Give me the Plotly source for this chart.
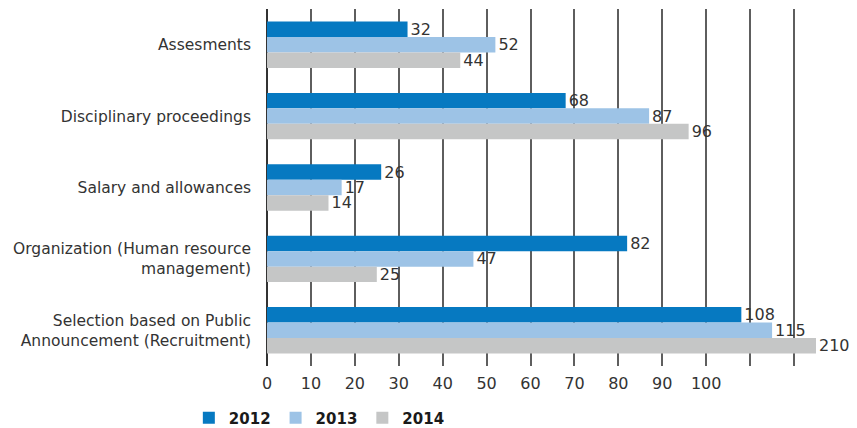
import plotly.graph_objects as go

# categories top to bottom
categories = [
    "Assesments",
    "Disciplinary proceedings",
    "Salary and allowances",
    "Organization (Human resource<br>management)",
    "Selection based on Public<br>Announcement (Recruitment)",
]
years = ["2012", "2013", "2014"]
values_2012 = [32, 68, 26, 82, 108]
values_2013 = [52, 87, 17, 47, 115]
values_2014 = [44, 96, 14, 25, 210]

colors = ["#0679C1", "#9DC3E6", "#C5C6C6"]
x_max = 125  # axis is cut here, longer bars are clipped

fig = go.Figure()
for year, vals, col in zip(years, [values_2012, values_2013, values_2014], colors):
    fig.add_trace(go.Bar(
        y=categories,
        x=[min(v, x_max) for v in vals],
        name="<b>" + year + "</b>",
        orientation="h",
        marker=dict(color=col, line_width=0),
        text=[str(v) for v in vals],
        textposition="outside",
        constraintext="none",
        textfont=dict(size=16, color="#333333"),
        cliponaxis=False,
        hovertext=[str(v) for v in vals],
    ))

# page body has an 8px margin, so the figure is a bit smaller than the window
fig.update_layout(
    barmode="group",
    bargap=0.35,
    bargroupgap=0,
    width=849,
    height=420,
    plot_bgcolor="white",
    paper_bgcolor="white",
    font=dict(family="DejaVu Sans", size=16, color="#333333"),
    margin=dict(l=259, r=41, t=1, b=62, autoexpand=False),
    legend=dict(
        orientation="h",
        xref="container",
        yref="container",
        x=0.213,
        y=0.024,
        xanchor="left",
        yanchor="middle",
        font=dict(size=15, color="#1a1a1a", family="DejaVu Sans"),
        traceorder="normal",
    ),
)

tick_vals = list(range(0, 130, 10))
tick_text = [str(v) if v <= 100 else "" for v in tick_vals]
fig.update_xaxes(
    range=[0, x_max],
    tickvals=tick_vals,
    ticktext=tick_text,
    showgrid=True,
    gridcolor="#5e5e5e",
    gridwidth=1.5,
    zeroline=True,
    zerolinecolor="#333333",
    zerolinewidth=1.5,
    showline=False,
    ticklabelstandoff=6,
    automargin=False,
)
fig.update_yaxes(
    autorange="reversed",
    showgrid=False,
    ticklabelstandoff=15,
    tickfont=dict(size=15.5),
    automargin=False,
)

fig.write_html("out.html")
